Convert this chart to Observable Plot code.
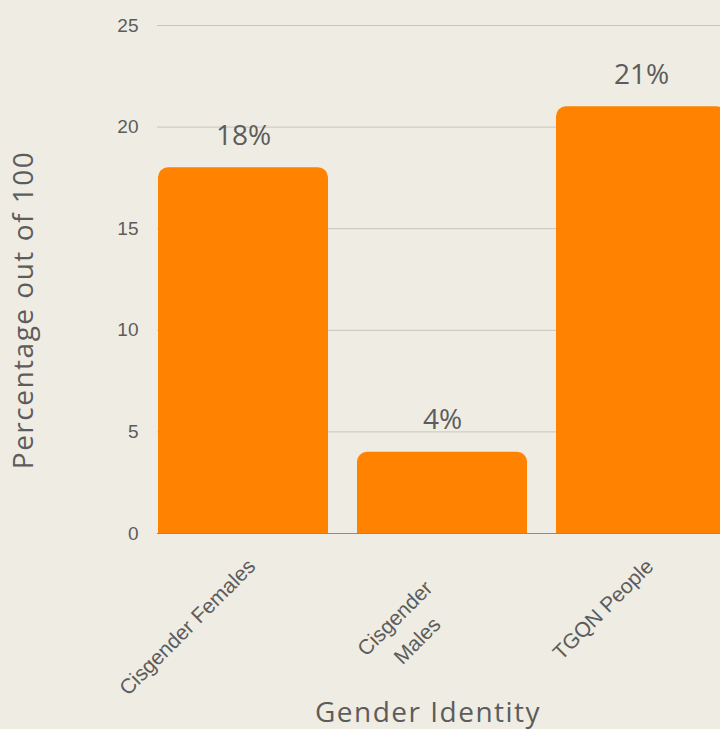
<!DOCTYPE html>
<html><head><meta charset="utf-8">
<script src="https://cdn.jsdelivr.net/npm/d3@7"></script>
<script src="https://cdn.jsdelivr.net/npm/@observablehq/plot@0.6"></script>
<style>
html,body{margin:0;padding:0;background:#efece3;width:720px;height:729px;overflow:hidden}
#wrap{position:relative;width:720px;height:729px}
#wrap svg{position:absolute;left:0;top:0}
.title{position:absolute;font-family:"Open Sans",sans-serif;font-size:28px;letter-spacing:1.5px;color:#5c5c5c;white-space:nowrap;line-height:1}
#xt{left:428px;top:697px;transform:translateX(-50%)}
#yt{left:22px;top:310px;transform:translate(-50%,-50%) rotate(-90deg)}
</style></head>
<body><div id="wrap"><div class="title" id="xt">Gender Identity</div><div class="title" id="yt">Percentage out of 100</div></div>
<script>
const categories = ["Cisgender Females", "Cisgender Males", "TGQN People"];
const tickLabels = ["Cisgender Females", "Cisgender\nMales", "TGQN People"];
const values = [18, 4, 21];
const yTicks = [0, 5, 10, 15, 20, 25];

const data = categories.map((c, i) => ({cat: c, value: values[i], label: tickLabels[i]}));
const ink = "#5c5c5c";

// rotated category labels: positioned as end-anchored single strings, lines centred
const fsX = 21, lh = 1.5, endOff = [6, 27];
const ctx = document.createElement("canvas").getContext("2d");
ctx.font = `${fsX}px "Liberation Sans"`;
const s = Math.SQRT1_2;
const labelMarks = data.map(d => {
  const n = d.label.split("\n").length;
  const w = ctx.measureText(d.label.replace(/\n/g, " ")).width;
  const k = (n - 1) / 2 * lh * fsX;
  return Plot.text([d], {
    x: "cat", y: () => 0, text: "label", rotate: -45, textAnchor: "middle", lineAnchor: "middle",
    lineHeight: lh, fontSize: fsX, fontFamily: "'Liberation Sans', Arial, sans-serif", fill: ink,
    dx: endOff[0] - w / 2 * s + k * s, dy: endOff[1] + w / 2 * s + k * s
  });
});

const chart = Plot.plot({
  width: 720, height: 729,
  marginLeft: 157, marginRight: 0, marginTop: 25, marginBottom: 196,
  style: {background: "transparent", fontFamily: "'Liberation Sans', Arial, sans-serif", fontSize: "19px", color: ink},
  x: {domain: categories, range: [157, 726], paddingInner: 0.148, paddingOuter: 0, axis: null},
  y: {domain: [0, 25]},
  marks: [
    Plot.gridY(yTicks.filter(d => d > 0), {stroke: "#c8c5bc", strokeOpacity: 1}),
    Plot.barY(data, {x: "cat", y: "value", fill: "#ff8200", rx: 10, insetBottom: -14, clip: true}),
    Plot.ruleY([0], {stroke: "#8c8c8c"}),
    Plot.axisY({ticks: yTicks, tickSize: 0, tickPadding: 19, fontSize: 19, label: null, fill: ink}),
    ...labelMarks,
    Plot.text(data, {x: "cat", y: "value", text: d => d.value + "%", dy: -32, fontSize: 28,
      fontFamily: "'Open Sans', sans-serif", fill: ink, style: {letterSpacing: "1px"}})
  ]
});
document.getElementById("wrap").appendChild(chart);
</script>
</body></html>
